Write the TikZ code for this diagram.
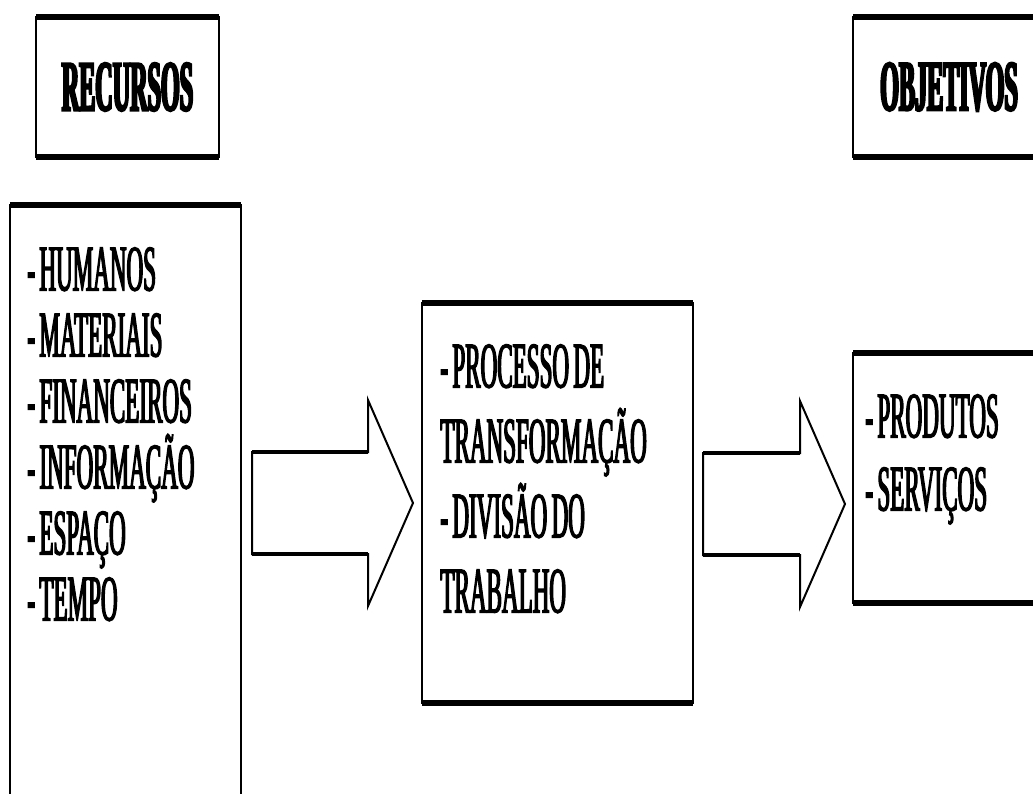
\documentclass[tikz,border=0pt]{standalone}
\usepackage{fontspec}
\newfontfamily\itemfont[FakeStretch=0.355, FakeBold=2, WordSpace=0.75]{Liberation Serif}
\newfontfamily\headfont[FakeStretch=0.335, FakeBold=3]{Liberation Serif Bold}
\usetikzlibrary{calc}

% hollow block arrow: #1 tail, #2 tip
\newcommand{\bigarrow}[2]{%
  \draw[blockarrow] ($(#1)+(0,-51)$) -- ($(#2)+(-45,-51)$) -- ($(#2)+(-45,-103)$)
    -- (#2) -- ($(#2)+(-45,103)$) -- ($(#2)+(-45,51)$) -- ($(#1)+(0,51)$) -- cycle;
  \draw[shaft] ($(#1)+(0,-51)$) -- ($(#2)+(-45,-51)$)
    ($(#1)+(0,51)$) -- ($(#2)+(-45,51)$);
}

\begin{document}
\begin{tikzpicture}[
  x=0.5pt, y=-0.5pt,
  box/.style = {draw, line width=1.3pt, outer sep=0pt, inner sep=0pt},
  edge/.style = {line width=2.6pt},
  head/.style = {box, font=\headfont\fontsize{36pt}{40pt}\selectfont},
  items/.style = {anchor=north west, inner sep=0pt, align=left,
                  font=\itemfont\fontsize{32.5pt}{#1}\selectfont},
  blockarrow/.style = {draw, line width=1pt, line join=miter},
  shaft/.style = {line width=2pt}
  ]
	\clip (0,0) rectangle (1033,793);

	\node[head, minimum width=91.5pt, minimum height=70pt] (rec) at (127.5,87) {RECURSOS};
	\node[head, minimum width=96pt, minimum height=70pt] (obj) at (949,87) {OBJETIVOS};

	\node[box, minimum width=115.5pt, minimum height=302.5pt] (res) at (125.5,507.5) {};
	\node[box, minimum width=135.5pt, minimum height=200pt] (proc) at (557.5,503) {};
	\node[box, minimum width=96pt, minimum height=125pt] (prod) at (949,478) {};

	\foreach \n in {rec,obj,res,proc,prod}
		\draw[edge] (\n.north west) -- (\n.north east) (\n.south west) -- (\n.south east);

	\node[items=33pt] (restxt) at (27,247) {- HUMANOS\\- MATERIAIS\\- FINANCEIROS\\- INFORMAÇÃO\\- ESPAÇO\\- TEMPO};
	\node[items=37.5pt] (proctxt) at (440,344) {- PROCESSO DE\\TRANSFORMAÇÃO\\- DIVISÃO DO\\TRABALHO};
	\node[items=36.5pt] (prodtxt) at (865,394) {- PRODUTOS\\- SERVIÇOS};

	\coordinate (a1tip) at ($(proc.west)+(-9,0)$);
	\coordinate (a1tail) at ($(res.east |- a1tip)+(11,0)$);
	\coordinate (a2tail) at ($(proc.east)+(10,1)$);
	\coordinate (a2tip) at ($(a2tail -| prod.west)+(-8,0)$);

	\bigarrow{a1tail}{a1tip}
	\bigarrow{a2tail}{a2tip}

\end{tikzpicture}
\end{document}
